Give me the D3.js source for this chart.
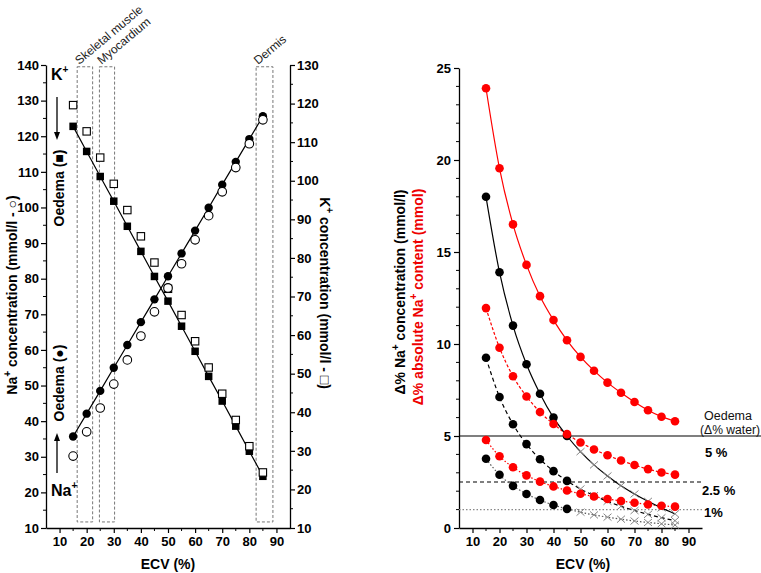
<!DOCTYPE html>
<html><head><meta charset="utf-8">
<script src="https://cdn.jsdelivr.net/npm/d3@7"></script>
<style>
body{margin:0;background:#fff;}
svg{display:block;font-family:"Liberation Sans",Arial,sans-serif;}
</style></head>
<body>
<svg id="c" width="761" height="573"></svg>
<script>
// ---------- Data ----------
const ecv = [15,20,25,30,35,40,45,50,55,60,65,70,75,80,85];
// Left panel: Na+ (left axis) and K+ (right axis), mmol/l
const naNormal  = [30.2,37.0,43.7,50.4,57.2,63.9,70.7,77.4,84.2,90.9,97.7,104.4,111.2,117.9,124.6];
const naOedema  = [35.7,42.1,48.5,55.0,61.4,67.8,74.2,80.7,87.1,93.5,99.9,106.4,112.8,119.2,125.6];
const kNormal   = [119.6,112.8,106.0,99.2,92.4,85.6,78.8,72.0,65.2,58.4,51.6,44.8,38.0,31.2,24.4];
const kOedema   = [114.1,107.6,101.1,94.7,88.2,81.7,75.2,68.8,62.3,55.8,49.3,42.9,36.4,29.9,23.4];
const tissues   = ["Skeletal muscle","Myocardium","Dermis"];
const tissueLo  = [16.5,24.7,82.5];
const tissueHi  = [22.2,30.3,88.7];
// Right panel: Δ% Na+ concentration (black) and Δ% absolute Na+ content (red)
const oedemaLevels = ["5 %","2.5 %","1%"];
const concD5   = [18.0,13.9,11.0,8.9,7.3,6.0,5.0,4.15,3.43,2.83,2.30,1.85,1.45,1.09,0.77];
const concD25  = [9.25,7.12,5.64,4.56,3.74,3.09,2.56,2.12,1.76,1.45,1.18,0.95,0.74,0.56,0.40];
const concD1   = [3.76,2.89,2.29,1.85,1.52,1.25,1.04,0.86,0.71,0.59,0.48,0.38,0.30,0.23,0.16];
const contD5   = [23.9,19.55,16.5,14.3,12.6,11.3,10.2,9.3,8.55,7.9,7.35,6.85,6.4,6.05,5.8];
const contD25  = [11.95,9.8,8.25,7.15,6.3,5.65,5.1,4.65,4.27,3.95,3.67,3.42,3.2,3.02,2.9];
const contD1   = [4.78,3.9,3.3,2.86,2.52,2.26,2.04,1.86,1.71,1.58,1.47,1.37,1.28,1.21,1.16];
const waterLines = [5,2.5,1];
const xTicks = [10,20,30,40,50,60,70,80,90];
const naTicks = [10,20,30,40,50,60,70,80,90,100,110,120,130,140];
const kTicks  = [10,20,30,40,50,60,70,80,90,100,110,120,130];
const dTicks  = [0,5,10,15,20,25];

const svg = d3.select("#c");
const BOLD = "bold";

// ---------- Left panel ----------
const xL = d3.scaleLinear().domain([5,95]).range([46,290]);
const yL = d3.scaleLinear().domain([10,140]).range([528,65]);
const yK = d3.scaleLinear().domain([10,130]).range([528,65]);

const gL = svg.append("g");
function styleAxis(g, fs){
  g.selectAll("path.domain").attr("stroke","#000").attr("stroke-width",1.3);
  g.selectAll(".tick line").attr("stroke","#000").attr("stroke-width",1.2);
  g.selectAll(".tick text").attr("font-size",fs||13).attr("font-weight",BOLD).attr("fill","#000")
    .attr("font-family","'Liberation Sans',Arial,sans-serif");
}
function minor(g, scale, vals, orient, len){
  vals.forEach(v=>{
    const p = scale(v);
    if(orient==="bottom") g.append("line").attr("x1",p).attr("x2",p).attr("y1",0).attr("y2",len).attr("stroke","#000").attr("stroke-width",1);
    if(orient==="left") g.append("line").attr("x1",0).attr("x2",-len).attr("y1",p).attr("y2",p).attr("stroke","#000").attr("stroke-width",1);
    if(orient==="right") g.append("line").attr("x1",0).attr("x2",len).attr("y1",p).attr("y2",p).attr("stroke","#000").attr("stroke-width",1);
  });
}
// tissue boxes
tissues.forEach((t,i)=>{
  gL.append("rect").attr("x",xL(tissueLo[i])).attr("y",yL(139.5))
    .attr("width",xL(tissueHi[i])-xL(tissueLo[i])).attr("height",yL(11.7)-yL(139.5))
    .attr("fill","none").attr("stroke","#777").attr("stroke-width",1).attr("stroke-dasharray","3,2");
  const tx = xL(tissueLo[i])+2, ty = 65;
  gL.append("text").attr("transform",`translate(${tx},${ty}) rotate(-40)`)
    .attr("font-size",12).attr("fill","#222").text(t);
});

const axLb = gL.append("g").attr("transform","translate(0,528)")
  .call(d3.axisBottom(xL).tickValues(xTicks).tickSize(5).tickPadding(4).tickSizeOuter(0));
styleAxis(axLb);
minor(axLb, xL, [15,25,35,45,55,65,75,85], "bottom", 3);
const axLl = gL.append("g").attr("transform","translate(46,0)")
  .call(d3.axisLeft(yL).tickValues(naTicks).tickSize(5).tickPadding(2).tickSizeOuter(0));
styleAxis(axLl);
minor(axLl, yL, d3.range(15,140,10), "left", 3);
const axLr = gL.append("g").attr("transform","translate(290,0)")
  .call(d3.axisRight(yK).tickValues(kTicks).tickSize(5).tickPadding(2).tickSizeOuter(0));
styleAxis(axLr);
minor(axLr, yK, d3.range(15,130,10), "right", 3);

// lines
const lineNa = d3.line().x((d,i)=>xL(ecv[i])).y(d=>yL(d));
const lineK  = d3.line().x((d,i)=>xL(ecv[i])).y(d=>yK(d));
gL.append("path").attr("d",lineNa(naOedema)).attr("fill","none").attr("stroke","#000").attr("stroke-width",1.2);
gL.append("path").attr("d",lineK(kOedema)).attr("fill","none").attr("stroke","#000").attr("stroke-width",1.2);
// markers
const sq = 7.5;
gL.selectAll(".ko").data(kOedema).enter().append("rect")
  .attr("x",(d,i)=>xL(ecv[i])-sq/2).attr("y",d=>yK(d)-sq/2).attr("width",sq).attr("height",sq).attr("fill","#000");
gL.selectAll(".no").data(naOedema).enter().append("circle")
  .attr("cx",(d,i)=>xL(ecv[i])).attr("cy",d=>yL(d)).attr("r",4.2).attr("fill","#000");
gL.selectAll(".kn").data(kNormal).enter().append("rect")
  .attr("x",(d,i)=>xL(ecv[i])-3.7).attr("y",d=>yK(d)-3.7).attr("width",7.4).attr("height",7.4)
  .attr("fill","#fff").attr("stroke","#000").attr("stroke-width",1.1);
gL.selectAll(".nn").data(naNormal).enter().append("circle")
  .attr("cx",(d,i)=>xL(ecv[i])).attr("cy",d=>yL(d)).attr("r",4.3)
  .attr("fill","#fff").attr("stroke","#000").attr("stroke-width",1.1);

// annotations
const kT = gL.append("text").attr("x",51).attr("y",80).attr("font-size",16).attr("font-weight",BOLD);
kT.append("tspan").text("K");
kT.append("tspan").attr("dy",-7).attr("font-size",10).text("+");
const naT = gL.append("text").attr("x",51).attr("y",496).attr("font-size",16).attr("font-weight",BOLD);
naT.append("tspan").text("Na");
naT.append("tspan").attr("dy",-7).attr("font-size",10).text("+");
function arrow(x,y1,y2){
  gL.append("line").attr("x1",x).attr("x2",x).attr("y1",y1).attr("y2",y2+(y2>y1?-7:7)).attr("stroke","#000").attr("stroke-width",1.3);
  const d = y2>y1?-1:1;
  gL.append("path").attr("d",`M${x-3},${y2+8*d} L${x+3},${y2+8*d} L${x},${y2} Z`).attr("fill","#000");
}
arrow(57,97,140);
arrow(57,473,433);
gL.append("text").attr("transform","translate(64,188) rotate(-90)").attr("text-anchor","middle")
  .attr("font-size",14).attr("font-weight",BOLD).text("Oedema (■)");
gL.append("text").attr("transform","translate(64,383) rotate(-90)").attr("text-anchor","middle")
  .attr("font-size",14).attr("font-weight",BOLD).text("Oedema (●)");
// axis titles
const t1 = gL.append("text").attr("transform","translate(17,295) rotate(-90)").attr("text-anchor","middle")
  .attr("font-size",14).attr("font-weight",BOLD);
t1.append("tspan").text("Na");
t1.append("tspan").attr("dy",-6).attr("font-size",10).text("+");
t1.append("tspan").attr("dy",6).text(" concentration (mmol/l - ○)");
const t2 = gL.append("text").attr("transform","translate(320,293) rotate(90)").attr("text-anchor","middle")
  .attr("font-size",14).attr("font-weight",BOLD);
t2.append("tspan").text("K");
t2.append("tspan").attr("dy",-6).attr("font-size",10).text("+");
t2.append("tspan").attr("dy",6).text(" concentration (mmol/l - □)");
gL.append("text").attr("x",168).attr("y",569).attr("text-anchor","middle")
  .attr("font-size",14).attr("font-weight",BOLD).text("ECV (%)");

// ---------- Right panel ----------
const xR = d3.scaleLinear().domain([5,95]).range([459,702]);
const yR = d3.scaleLinear().domain([0,25]).range([528,68]);
const gR = svg.append("g");

const axRb = gR.append("g").attr("transform","translate(0,528)")
  .call(d3.axisBottom(xR).tickValues(xTicks).tickSize(5).tickPadding(4).tickSizeOuter(0));
styleAxis(axRb);
minor(axRb, xR, [15,25,35,45,55,65,75,85], "bottom", 3);
const axRl = gR.append("g").attr("transform","translate(459,0)")
  .call(d3.axisLeft(yR).tickValues(dTicks).tickSize(5).tickPadding(3).tickSizeOuter(0));
styleAxis(axRl);
minor(axRl, yR, d3.range(1,25).filter(v=>v%5!==0), "left", 3);

// water reference lines
const wStyle = [{ext:761,dash:null,col:"#000"},{ext:702,dash:"4,3",col:"#000"},{ext:702,dash:"1.5,2",col:"#888"}];
waterLines.forEach((w,i)=>{
  gR.append("line").attr("x1",459).attr("x2",wStyle[i].ext).attr("y1",yR(w)).attr("y2",yR(w))
    .attr("stroke",wStyle[i].col).attr("stroke-width",1.2).attr("stroke-dasharray",wStyle[i].dash);
});

const curve = d3.line().x((d,i)=>xR(ecv[i])).y(d=>yR(d)).curve(d3.curveMonotoneX);
const series = [
  {v:contD5, col:"#f00", dash:null, red:true},
  {v:contD25,col:"#f00", dash:"3,2", red:true},
  {v:contD1, col:"#f00", dash:"1.5,2", red:true},
  {v:concD5, col:"#000", dash:null, red:false},
  {v:concD25,col:"#000", dash:"4,3", red:false},
  {v:concD1, col:"#555", dash:"1.5,2", red:false}
];
series.forEach(s=>{
  gR.append("path").attr("d",curve(s.v)).attr("fill","none").attr("stroke",s.col)
    .attr("stroke-width",1.2).attr("stroke-dasharray",s.dash);
});
// black circles (15-45) and grey crosses (50-85)
series.filter(s=>!s.red).forEach(s=>{
  s.v.forEach((d,i)=>{
    const x = xR(ecv[i]), y = yR(d);
    if(ecv[i]<=45){
      gR.append("circle").attr("cx",x).attr("cy",y).attr("r",4.3).attr("fill","#000");
    } else {
      gR.append("path").attr("d",`M${x-4},${y-3.5}L${x+4},${y+3.5}M${x-4},${y+3.5}L${x+4},${y-3.5}`)
        .attr("stroke","#888").attr("stroke-width",1).attr("fill","none");
    }
  });
});
series.filter(s=>s.red).forEach(s=>{
  gR.selectAll(null).data(s.v).enter().append("circle")
    .attr("cx",(d,i)=>xR(ecv[i])).attr("cy",d=>yR(d)).attr("r",4.3).attr("fill","#f00");
});

// labels
gR.append("text").attr("x",704).attr("y",420).attr("font-size",12.5).attr("fill","#111").text("Oedema");
gR.append("text").attr("x",700).attr("y",434).attr("font-size",12.5).attr("fill","#111")
  .attr("textLength",60).attr("lengthAdjust","spacingAndGlyphs").text("(Δ% water)");
gR.append("text").attr("x",705).attr("y",457).attr("font-size",13).attr("font-weight",BOLD).text(oedemaLevels[0]);
gR.append("text").attr("x",702).attr("y",495).attr("font-size",13).attr("font-weight",BOLD).text(oedemaLevels[1]);
gR.append("text").attr("x",704).attr("y",517).attr("font-size",13).attr("font-weight",BOLD).text(oedemaLevels[2]);

const r1 = gR.append("text").attr("transform","translate(405,292) rotate(-90)").attr("text-anchor","middle")
  .attr("font-size",14).attr("font-weight",BOLD).attr("fill","#000");
r1.append("tspan").text("Δ% Na");
r1.append("tspan").attr("dy",-6).attr("font-size",10).text("+");
r1.append("tspan").attr("dy",6).text(" concentration (mmol/l)");
const r2 = gR.append("text").attr("transform","translate(423,297) rotate(-90)").attr("text-anchor","middle")
  .attr("font-size",14).attr("font-weight",BOLD).attr("fill","#e00");
r2.append("tspan").text("Δ% absolute Na");
r2.append("tspan").attr("dy",-6).attr("font-size",10).text("+");
r2.append("tspan").attr("dy",6).text(" content (mmol)");
gR.append("text").attr("x",583).attr("y",569).attr("text-anchor","middle")
  .attr("font-size",14).attr("font-weight",BOLD).text("ECV (%)");
</script>
</body></html>
